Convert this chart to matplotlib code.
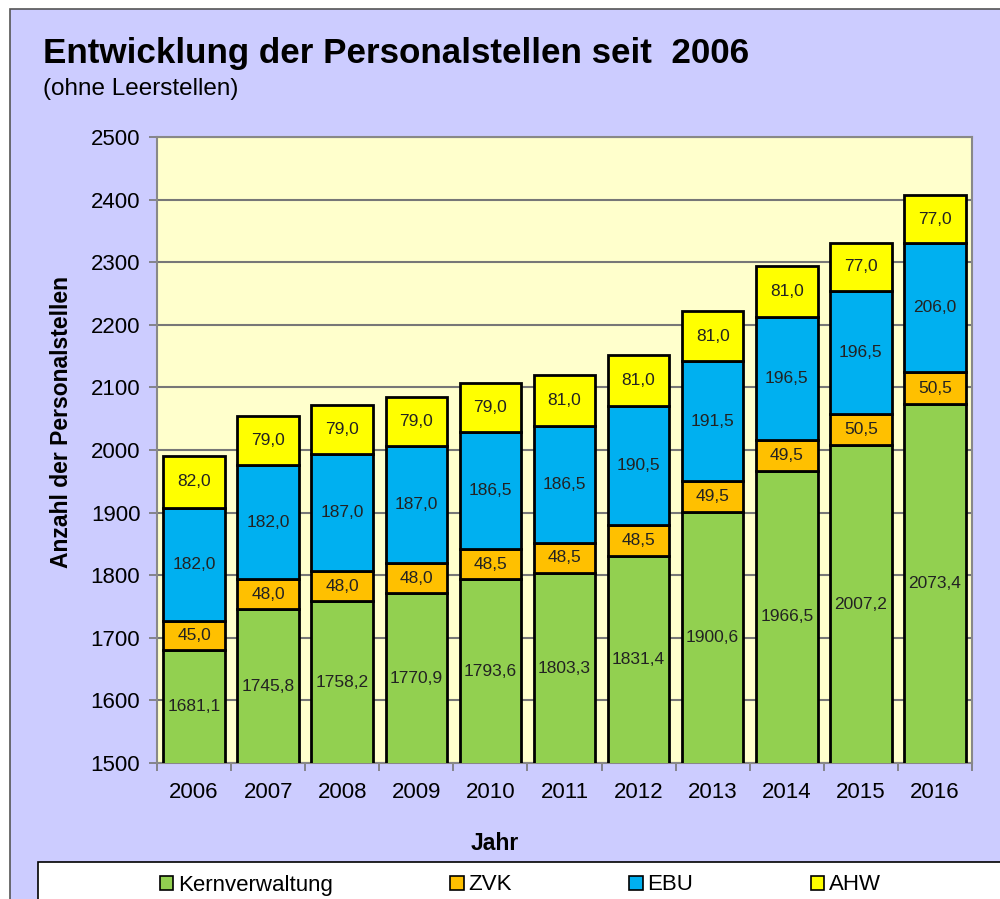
import matplotlib
matplotlib.use("Agg")
import matplotlib.pyplot as plt
from matplotlib.patches import Rectangle, Patch
import numpy as np

plt.rcParams['font.family'] = ['Liberation Sans', 'DejaVu Sans']

# data
years = ['2006', '2007', '2008', '2009', '2010', '2011', '2012', '2013', '2014', '2015', '2016']
kern = [1681.1, 1745.8, 1758.2, 1770.9, 1793.6, 1803.3, 1831.4, 1900.6, 1966.5, 2007.2, 2073.4]
zvk = [45.0, 48.0, 48.0, 48.0, 48.5, 48.5, 48.5, 49.5, 49.5, 50.5, 50.5]
ebu = [182.0, 182.0, 187.0, 187.0, 186.5, 186.5, 190.5, 191.5, 196.5, 196.5, 206.0]
ahw = [82.0, 79.0, 79.0, 79.0, 79.0, 81.0, 81.0, 81.0, 81.0, 77.0, 77.0]
series = [('Kernverwaltung', kern, '#92D050'),
          ('ZVK', zvk, '#FFC000'),
          ('EBU', ebu, '#00B0F0'),
          ('AHW', ahw, '#FFFF00')]

W, H = 1000, 899
fig = plt.figure(figsize=(W / 100, H / 100), dpi=100)
fig.patch.set_facecolor('white')

# lavender chart area with border
fig.patches.append(Rectangle((10 / W, -0.01), 1.0, (H - 9) / H + 0.01, transform=fig.transFigure,
                             facecolor='#CCCCFF', edgecolor='#555555', linewidth=1.2, zorder=-2))

ax = fig.add_axes([157 / W, (H - 763) / H, (972 - 157) / W, (763 - 137) / H])
ax.set_zorder(3)
ax.set_facecolor('#FFFFCC')

x = np.arange(len(years))
bottom = np.zeros(len(years))
for name, vals, col in series:
    vals = np.array(vals)
    ax.bar(x, vals, 0.83, bottom=bottom, color=col, edgecolor='black', linewidth=2, zorder=3)
    for xi, b, v in zip(x, bottom, vals):
        yc = b + v / 2
        if b == 0:
            yc = 1500 + (v - 1500) / 2
        ax.text(xi, yc, f'{v:.1f}'.replace('.', ','), ha='center', va='center',
                fontsize=12.5, color='#222222', zorder=4)
    bottom = bottom + vals

ax.set_ylim(1500, 2500)
ax.set_xlim(-0.5, len(years) - 0.5)
ax.set_yticks(range(1500, 2501, 100))
ax.yaxis.grid(True, color='#777777', linewidth=1.5, zorder=1)
ax.set_axisbelow(True)

ax.set_xticks(np.arange(-0.5, len(years), 1))
ax.set_xticklabels([])
ax.set_xticks(x, minor=True)
ax.set_xticklabels(years, minor=True)
ax.tick_params(axis='x', which='minor', length=0, pad=14, labelsize=16)
ax.tick_params(axis='x', which='major', length=6, color='#777777', width=1.2)
ax.tick_params(axis='y', length=6, color='#777777', width=1.2, labelsize=16, pad=6)
for s in ax.spines.values():
    s.set_color('#888888')
    s.set_linewidth(1.5)

ax.set_ylabel('Anzahl der Personalstellen', fontsize=16.5, fontweight='bold')
ax.set_xlabel('Jahr', fontsize=16.5, fontweight='bold')
ax.yaxis.set_label_coords(-(157 - 62) / 815, (763 - 422) / 626)
ax.xaxis.set_label_coords((495 - 157) / 815, -(843 - 763) / 626)
ax.yaxis.label.set_va('center')
ax.xaxis.label.set_va('center')

fig.text(43 / W, 1 - 53 / H, 'Entwicklung der Personalstellen seit  2006', fontsize=25.2,
         fontweight='bold', ha='left', va='center')
fig.text(43 / W, 1 - 89 / H, '(ohne Leerstellen)', fontsize=17.5, ha='left', va='center')

# legend box
fig.patches.append(Rectangle((38 / W, -0.01), 1.0, (H - 862) / H + 0.01, transform=fig.transFigure,
                             facecolor='white', edgecolor='black', linewidth=1.2, zorder=-1))
handles = [Patch(facecolor=c, edgecolor='black', linewidth=1.2) for _, _, c in series]
leg = fig.legend(handles, [n for n, _, _ in series], loc='center left',
                 bbox_to_anchor=(160 / W, 1 - 885 / H), ncol=4, frameon=False, fontsize=16,
                 handlelength=0.6, handleheight=0.6, handletextpad=0.2, columnspacing=5.3,
                 borderaxespad=0, borderpad=0)
leg.set_zorder(6)

fig.savefig('out.png', dpi=100, facecolor=fig.get_facecolor())
